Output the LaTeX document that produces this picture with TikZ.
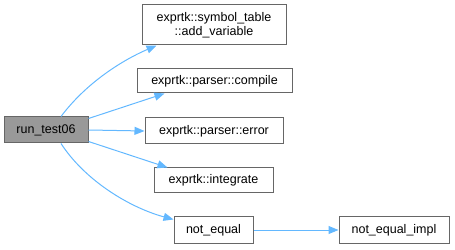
\documentclass[tikz,border=0pt]{standalone}
\usepackage{fontspec}
\setmainfont{Liberation Sans}
\usetikzlibrary{arrows.meta}
\definecolor{edgeblue}{HTML}{63B8FF}
\definecolor{boxline}{HTML}{666666}
\definecolor{curfill}{HTML}{999999}
\tikzset{
  fn/.style={draw=boxline, fill=white, line width=1pt, inner sep=0pt,
    align=center, font=\fontsize{12.5}{14}\selectfont},
  cur/.style={fn, fill=curfill},
  edge/.style={draw=edgeblue, line width=1pt,
    -{Triangle[length=10pt,width=8pt]}},
}
\begin{document}
\begin{tikzpicture}[x=1pt,y=1pt]
  \useasboundingbox (0,0) rectangle (455,249);
  % caller
  \node[cur, minimum width=84pt, minimum height=26pt] (r) at (46,119) {run\_test06};
  % callees
  \node[fn, minimum width=144pt, minimum height=40pt] (a) at (214,224)
    {exprtk::symbol\_table\\::add\_variable};
  \node[fn, minimum width=155pt, minimum height=24pt] (c) at (214.5,168) {exprtk::parser::compile};
  \node[fn, minimum width=138pt, minimum height=26pt] (e) at (214,118) {exprtk::parser::error};
  \node[fn, minimum width=119pt, minimum height=25pt] (i) at (213.5,68.5) {exprtk::integrate};
  \node[fn, minimum width=79pt, minimum height=26pt] (n) at (213.5,19) {not\_equal};
  \node[fn, minimum width=110pt, minimum height=26pt] (m) at (394,19) {not\_equal\_impl};
  % call edges
  \draw[edge] ([xshift=15pt]r.north) .. controls +(24,32) and +(-37,-16) .. ([xshift=15pt]a.south west);
  \draw[edge] ([yshift=-2pt]r.north east) -- ([xshift=28pt]c.south west);
  \draw[edge] (r.east) -- (e.west);
  \draw[edge] ([yshift=2pt]r.south east) -- ([xshift=14pt]i.north west);
  \draw[edge] ([xshift=15pt]r.south) .. controls +(24,-37) and +(-44,12) .. ([yshift=-3pt]n.north west);
  \draw[edge] (n.east) -- (m.west);
\end{tikzpicture}
\end{document}
